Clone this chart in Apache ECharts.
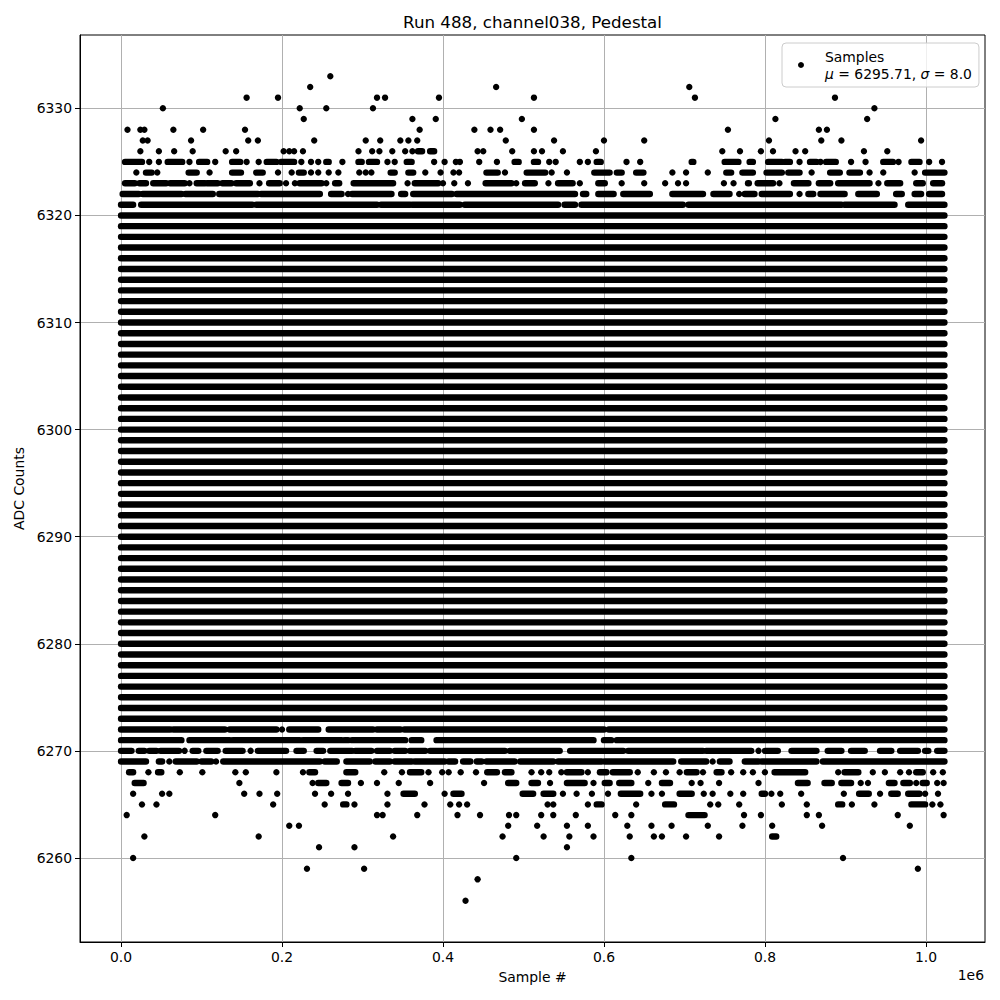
<!DOCTYPE html>
<html>
<head>
<meta charset="utf-8">
<script src="https://cdn.jsdelivr.net/npm/echarts@6/dist/echarts.min.js"></script>
<style>
html,body{margin:0;padding:0;background:#fff;}
#chart{width:1000px;height:1000px;}
</style>
</head>
<body>
<div id="chart"></div>
<script>
// ---- data (x in thousands of samples, y in ADC counts) ----
var chartTitle = 'Run 488, channel038, Pedestal';
var seriesName = 'Samples';
var meanValue = '6295.71';
var sigmaValue = '8.0';
var xTickValues = [0, 200, 400, 600, 800, 1000];
var yTickValues = [6260, 6270, 6280, 6290, 6300, 6310, 6320, 6330];
var firstSample = 0;
var lastSample = 1023;

// levels where samples fill the whole run
var fullLevels = [6273, 6274, 6275, 6276, 6277, 6278, 6279, 6280, 6281, 6282, 6283, 6284, 6285,
  6286, 6287, 6288, 6289, 6290, 6291, 6292, 6293, 6294, 6295, 6296, 6297, 6298, 6299, 6300,
  6301, 6302, 6303, 6304, 6305, 6306, 6307, 6308, 6309, 6310, 6311, 6312, 6313, 6314, 6315,
  6316, 6317, 6318, 6319, 6320];

// runs of adjacent samples: [level, xStart, xEnd]
var runs = [
  [6326,369,374],[6326,384,389],
  [6325,5,26],[6325,58,76],[6325,97,107],[6325,138,148],[6325,181,193],[6325,199,215],[6325,255,258],[6325,295,299],[6325,308,318],[6325,355,361],[6325,489,494],[6325,513,518],[6325,591,596],[6325,709,711],[6325,750,767],[6325,781,785],[6325,804,821],[6325,825,831],[6325,856,864],[6325,876,888],[6325,947,959],[6325,982,992],
  [6324,31,38],[6324,84,94],[6324,138,149],[6324,168,176],[6324,221,227],[6324,335,340],[6324,357,363],[6324,454,468],[6324,504,527],[6324,588,607],[6324,616,622],[6324,640,649],[6324,752,758],[6324,772,785],[6324,802,821],[6324,829,843],[6324,881,893],[6324,905,918],[6324,999,1023],
  [6323,5,17],[6323,23,31],[6323,40,56],[6323,61,79],[6323,94,104],[6323,107,120],[6323,126,137],[6323,143,160],[6323,184,197],[6323,222,249],[6323,266,271],[6323,289,338],[6323,365,394],[6323,453,485],[6323,502,514],[6323,543,561],[6323,593,601],[6323,779,780],[6323,791,810],[6323,836,854],[6323,867,881],[6323,891,930],[6323,952,968],[6323,988,996],[6323,1009,1020],
  [6322,2,22],[6322,27,75],[6322,80,114],[6322,122,170],[6322,174,247],[6322,261,274],[6322,287,336],[6322,348,353],[6322,363,411],[6322,417,564],[6322,574,578],[6322,593,612],[6322,624,657],[6322,685,723],[6322,736,756],[6322,775,787],[6322,796,831],[6322,854,860],[6322,869,899],[6322,916,939],[6322,963,970],[6322,986,994],[6322,1004,1020],
  [6321,0,15],[6321,25,163],[6321,168,318],[6321,323,359],[6321,362,421],[6321,427,543],[6321,551,564],[6321,572,698],[6321,705,895],[6321,899,961],[6321,978,1023],
  [6272,0,61],[6272,65,129],[6272,135,193],[6272,209,245],[6272,258,313],[6272,318,347],[6272,352,600],[6272,606,1023],
  [6271,0,75],[6271,85,135],[6271,139,222],[6271,226,274],[6271,278,282],[6271,287,353],[6271,361,373],[6271,392,587],[6271,600,609],[6271,616,1023],
  [6270,0,13],[6270,22,29],[6270,35,44],[6270,49,72],[6270,89,96],[6270,106,120],[6270,130,151],[6270,170,205],[6270,218,227],[6270,243,251],[6270,260,287],[6270,291,311],[6270,318,334],[6270,340,353],[6270,359,378],[6270,384,477],[6270,483,545],[6270,558,624],[6270,630,723],[6270,727,783],[6270,800,816],[6270,833,864],[6270,878,895],[6270,907,924],[6270,943,957],[6270,968,990],[6270,999,1003],[6270,1014,1023],
  [6269,0,31],[6269,47,51],[6269,68,94],[6269,100,112],[6269,127,247],[6269,253,268],[6269,280,309],[6269,316,334],[6269,340,361],[6269,365,402],[6269,407,415],[6269,425,434],[6269,442,448],[6269,454,489],[6269,496,537],[6269,543,597],[6269,601,686],[6269,696,727],[6269,744,756],[6269,775,792],[6269,796,864],[6269,872,1023],
  [6268,10,15],[6268,46,50],[6268,234,241],[6268,280,291],[6268,359,373],[6268,455,467],[6268,477,485],[6268,554,572],[6268,595,603],[6268,611,632],[6268,703,715],[6268,740,746],[6268,812,850],[6268,899,916],[6268,988,996],
  [6267,17,28],[6267,245,255],[6267,274,282],[6267,481,491],[6267,510,518],[6267,554,576],[6267,601,607],[6267,619,634],[6267,672,682],[6267,841,853],[6267,874,883],[6267,895,907],[6267,954,961],[6267,972,980],[6267,996,1001],
  [6266,351,365],[6266,413,423],[6266,499,512],[6266,525,537],[6266,621,645],[6266,694,709],[6266,796,800],[6266,917,929],[6266,957,965],[6266,978,992],
  [6265,276,280],[6265,591,597],[6265,676,687],[6265,891,896],[6265,982,999],
  [6264,705,725],
  [6262,809,814]
];

// isolated samples: [x, level]
var points = [
  [260,6333],
  [235,6332],[466,6332],[706,6332],
  [156,6331],[195,6331],[318,6331],[328,6331],[395,6331],[513,6331],[713,6331],[887,6331],
  [52,6330],[222,6330],[255,6330],[313,6330],[936,6330],
  [227,6329],[362,6329],[391,6329],[498,6329],[813,6329],[927,6329],
  [8,6328],[24,6328],[29,6328],[65,6328],[102,6328],[154,6328],[371,6328],[439,6328],[459,6328],[471,6328],[513,6328],[754,6328],[867,6328],[877,6328],
  [27,6327],[33,6327],[87,6327],[158,6327],[170,6327],[240,6327],[304,6327],[322,6327],[347,6327],[357,6327],[368,6327],[478,6327],[538,6327],[600,6327],[650,6327],[805,6327],[870,6327],[895,6327],[994,6327],
  [24,6326],[47,6326],[66,6326],[89,6326],[130,6326],[143,6326],[202,6326],[209,6326],[215,6326],[226,6326],[295,6326],[312,6326],[321,6326],[337,6326],[353,6326],[362,6326],[443,6326],[450,6326],[486,6326],[513,6326],[523,6326],[549,6326],[590,6326],[747,6326],[769,6326],[795,6326],[810,6326],[838,6326],[850,6326],[923,6326],[952,6326],
  [35,6325],[47,6325],[85,6325],[117,6325],[156,6325],[171,6325],[224,6325],[236,6325],[245,6325],[275,6325],[331,6325],[340,6325],[389,6325],[402,6325],[416,6325],[421,6325],[445,6325],[467,6325],[532,6325],[540,6325],[570,6325],[580,6325],[628,6325],[645,6325],[843,6325],[869,6325],[907,6325],[925,6325],[966,6325],[1004,6325],[1020,6325],
  [19,6324],[45,6324],[110,6324],[195,6324],[212,6324],[236,6324],[245,6324],[258,6324],[270,6324],[296,6324],[304,6324],[311,6324],[378,6324],[397,6324],[413,6324],[420,6324],[477,6324],[535,6324],[554,6324],[685,6324],[702,6324],[729,6324],[858,6324],[930,6324],[947,6324],[986,6324],
  [85,6323],[172,6323],[205,6323],[216,6323],[255,6323],[356,6323],[400,6323],[414,6323],[431,6323],[491,6323],[531,6323],[570,6323],[622,6323],[650,6323],[676,6323],[692,6323],[702,6323],[749,6323],[761,6323],[818,6323],[941,6323],
  [282,6322],[768,6322],[843,6322],
  [200,6272],
  [79,6270],[161,6270],[792,6270],
  [60,6269],[118,6269],[735,6269],
  [34,6268],[73,6268],[101,6268],[142,6268],[155,6268],[193,6268],[226,6268],[327,6268],[349,6268],[382,6268],[399,6268],[407,6268],[422,6268],[441,6268],[510,6268],[522,6268],[532,6268],[547,6268],[580,6268],[642,6268],[662,6268],[677,6268],[694,6268],[723,6268],[758,6268],[773,6268],[785,6268],[800,6268],[891,6268],[934,6268],[949,6268],[968,6268],[979,6268],[1009,6268],[1021,6268],
  [147,6267],[238,6267],[298,6267],[318,6267],[345,6267],[384,6267],[451,6267],[533,6267],[587,6267],[655,6267],[709,6267],[720,6267],[743,6267],[792,6267],[919,6267],[928,6267],[988,6267],[1014,6267],[1022,6267],
  [15,6266],[51,6266],[60,6266],[153,6266],[172,6266],[194,6266],[241,6266],[261,6266],[282,6266],[331,6266],[402,6266],[549,6266],[566,6266],[585,6266],[605,6266],[659,6266],[672,6266],[724,6266],[735,6266],[757,6266],[773,6266],[808,6266],[819,6266],[845,6266],[898,6266],[943,6266],[999,6266],[1015,6266],
  [26,6265],[44,6265],[189,6265],[253,6265],[290,6265],[331,6265],[377,6265],[409,6265],[420,6265],[430,6265],[530,6265],[537,6265],[580,6265],[640,6265],[732,6265],[742,6265],[768,6265],[821,6265],[852,6265],[908,6265],[936,6265],[1008,6265],[1018,6265],
  [7,6264],[117,6264],[318,6264],[325,6264],[368,6264],[418,6264],[446,6264],[482,6264],[491,6264],[522,6264],[537,6264],[565,6264],[614,6264],[634,6264],[774,6264],[795,6264],[852,6264],[867,6264],[965,6264],[1022,6264],
  [209,6263],[221,6263],[481,6263],[517,6263],[554,6263],[580,6263],[629,6263],[659,6263],[684,6263],[729,6263],[772,6263],[809,6263],[871,6263],[980,6263],
  [29,6262],[171,6262],[338,6262],[474,6262],[525,6262],[557,6262],[587,6262],[632,6262],[662,6262],[672,6262],[702,6262],[743,6262],
  [246,6261],[290,6261],[554,6261],
  [15,6260],[491,6260],[634,6260],[897,6260],
  [231,6259],[302,6259],[990,6259],
  [443,6258],
  [428,6256]
];

// ---- build ----
var bandData = fullLevels.map(function (lv) { return [lv, firstSample, lastSample]; }).concat(runs);
var FONT = 'DejaVu Sans';
var FS = 13.9;
var chart = echarts.init(document.getElementById('chart'), null, {renderer: 'svg'});
chart.setOption({
  animation: false,
  backgroundColor: '#ffffff',
  graphic: [
    {type: 'text', x: 532.5, y: 22, style: {text: chartTitle, font: '16.7px "DejaVu Sans"', fill: '#000', textAlign: 'center', textVerticalAlign: 'middle'}},
    {type: 'text', x: 984, y: 975, style: {text: '1e6', font: FS + 'px "DejaVu Sans"', fill: '#000', textAlign: 'right', textVerticalAlign: 'middle'}}
  ],
  grid: {left: 80, right: 15, top: 35, bottom: 58, show: true, borderColor: '#000', borderWidth: 1, backgroundColor: 'transparent'},
  legend: {
    data: [seriesName],
    left: 782, top: 43,
    orient: 'vertical',
    padding: [5, 7, 5, 16],
    itemWidth: 6, itemHeight: 6,
    icon: 'circle',
    backgroundColor: 'rgba(255,255,255,0.8)',
    borderColor: '#cccccc', borderWidth: 1, borderRadius: 4,
    formatter: function (name) { return name + '\n{m|μ} = ' + meanValue + ', {m|σ} = ' + sigmaValue; },
    textStyle: {
      fontFamily: FONT, fontSize: FS, color: '#000', lineHeight: 17, padding: [0, 0, 0, 16],
      rich: {m: {fontFamily: FONT, fontSize: FS, fontStyle: 'italic', lineHeight: 17}}
    }
  },
  xAxis: {
    type: 'value', min: -51, max: 1073.4,
    name: 'Sample #', nameLocation: 'middle', nameGap: 28,
    nameTextStyle: {fontFamily: FONT, fontSize: FS, color: '#000'},
    axisLine: {show: true, onZero: false, lineStyle: {color: '#000', width: 1}},
    axisTick: {show: true, length: 5, lineStyle: {color: '#000'}, customValues: xTickValues},
    axisLabel: {fontFamily: FONT, fontSize: FS, color: '#000', margin: 8, customValues: xTickValues,
      formatter: function (v) { return (v / 1000).toFixed(1); }},
    splitLine: {show: true, lineStyle: {color: '#b0b0b0', width: 1}}
  },
  yAxis: {
    type: 'value', min: 6252.15, max: 6336.85,
    name: 'ADC Counts', nameLocation: 'middle', nameGap: 54,
    nameTextStyle: {fontFamily: FONT, fontSize: FS, color: '#000'},
    axisLine: {show: true, onZero: false, lineStyle: {color: '#000', width: 1}},
    axisTick: {show: true, length: 5, lineStyle: {color: '#000'}, customValues: yTickValues},
    axisLabel: {fontFamily: FONT, fontSize: FS, color: '#000', margin: 8, customValues: yTickValues,
      formatter: function (v) { return String(v); }},
    splitLine: {show: true, lineStyle: {color: '#b0b0b0', width: 1}}
  },
  series: [
    {
      name: 'bands', type: 'custom', silent: true, z: 2,
      encode: {x: [1, 2], y: 0},
      data: bandData,
      renderItem: function (params, api) {
        var a = api.coord([api.value(1), api.value(0)]);
        var b = api.coord([api.value(2), api.value(0)]);
        return {type: 'rect', shape: {x: a[0] - 3.2, y: a[1] - 3.2, width: b[0] - a[0] + 6.4, height: 6.4, r: 3.2}, style: {fill: '#000'}};
      }
    },
    {
      name: seriesName, type: 'scatter', z: 3,
      symbol: 'circle', symbolSize: 6.4,
      itemStyle: {color: '#000', opacity: 1},
      data: points
    }
  ]
});
</script>
</body>
</html>
